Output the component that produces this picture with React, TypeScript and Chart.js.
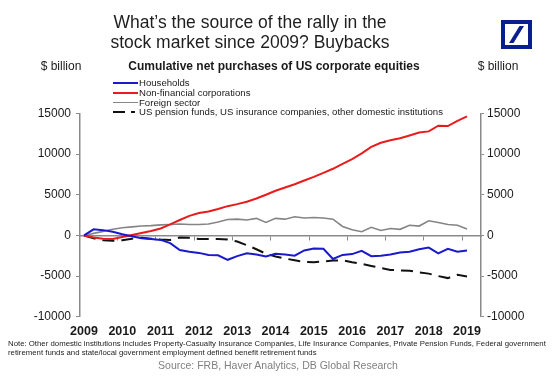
import React, { useEffect, useRef } from 'react';
import { Chart, registerables } from 'chart.js';

Chart.register(...registerables);

const QUARTERS = [
  '2009Q1', '2009Q2', '2009Q3', '2009Q4',
  '2010Q1', '2010Q2', '2010Q3', '2010Q4',
  '2011Q1', '2011Q2', '2011Q3', '2011Q4',
  '2012Q1', '2012Q2', '2012Q3', '2012Q4',
  '2013Q1', '2013Q2', '2013Q3', '2013Q4',
  '2014Q1', '2014Q2', '2014Q3', '2014Q4',
  '2015Q1', '2015Q2', '2015Q3', '2015Q4',
  '2016Q1', '2016Q2', '2016Q3', '2016Q4',
  '2017Q1', '2017Q2', '2017Q3', '2017Q4',
  '2018Q1', '2018Q2', '2018Q3', '2018Q4',
  '2019Q1',
];

const YEAR_LABELS = ['2009', '2010', '2011', '2012', '2013', '2014', '2015', '2016', '2017', '2018', '2019'];

const Y_TICKS = [-10000, -5000, 0, 5000, 10000, 15000];

const HOUSEHOLDS = [
  0, 750, 650, 450, 150, -100, -350, -450, -550, -950, -1800,
  -2000, -2150, -2400, -2450, -3000, -2550, -2200, -2350, -2600, -2250,
  -2350, -2500, -1850, -1600, -1650, -2900, -2400, -2300, -1900, -2550,
  -2500, -2350, -2100, -2000, -1700, -1500, -2200, -1650, -2000, -1850,
];

const NONFIN_CORPS = [
  0, -250, -400, -450, -200, 50, 300, 550, 850, 1350, 1900,
  2400, 2750, 2950, 3250, 3600, 3850, 4150, 4550, 5000, 5500,
  5900, 6300, 6750, 7200, 7700, 8200, 8800, 9400, 10100, 10900,
  11400, 11700, 11950, 12300, 12650, 12800, 13500, 13450, 14100, 14650,
];

const FOREIGN_SECTOR = [
  0, 250, 500, 750, 950, 1050, 1150, 1200, 1300, 1350, 1400,
  1350, 1350, 1400, 1650, 1950, 2000, 1900, 2100, 1600, 2100,
  2000, 2300, 2150, 2200, 2150, 2000, 1100, 700, 450, 1000,
  600, 850, 750, 1250, 1150, 1800, 1600, 1350, 1250, 800,
];

const PENSION_INSURANCE = [
  0, -350, -600, -650, -600, -400, -300, -400, -500, -550, -250,
  -300, -450, -450, -450, -500, -750, -1200, -1700, -2250, -2600,
  -2850, -3050, -3250, -3300, -3200, -3100, -3050, -3300, -3500, -3750,
  -4000, -4250, -4300, -4350, -4550, -4700, -5000, -5250, -4850, -5050,
];

const SERIES_NAMES = [
  'Households',
  'Non-financial corporations',
  'Foreign sector',
  'US pension funds, US insurance companies, other domestic institutions',
];

const FONT = '"Liberation Sans", Arial, Helvetica, sans-serif';
const AXIS_GREY = '#8a8a8a';
const TEXT = '#1a1a1a';

const SERIES = [
  { name: SERIES_NAMES[0], values: HOUSEHOLDS, color: '#1a1acc', width: 2, dash: [] as number[] },
  { name: SERIES_NAMES[1], values: NONFIN_CORPS, color: '#e81c1c', width: 2, dash: [] as number[] },
  { name: SERIES_NAMES[2], values: FOREIGN_SECTOR, color: '#858585', width: 1.6, dash: [] as number[] },
  { name: SERIES_NAMES[3], values: PENSION_INSURANCE, color: '#111111', width: 2, dash: [12, 7] },
];

const X_MIN = -0.42;
const X_MAX = 41.46;

export default function App() {
  const canvasRef = useRef<HTMLCanvasElement | null>(null);

  useEffect(() => {
    if (!canvasRef.current) return;
    const chart = new Chart(canvasRef.current, {
      type: 'line',
      data: {
        datasets: SERIES.map((s) => ({
          label: s.name,
          data: s.values.map((v, i) => ({ x: i, y: v })),
          borderColor: s.color,
          backgroundColor: s.color,
          borderWidth: s.width,
          borderDash: s.dash,
          pointRadius: 0,
          tension: 0,
          fill: false,
          xAxisID: 'x',
          yAxisID: 'y',
        })),
      },
      options: {
        animation: false,
        responsive: false,
        maintainAspectRatio: false,
        layout: { padding: { top: 113.5, bottom: 45.3, left: 0, right: 0 } },
        plugins: { legend: { display: false }, tooltip: { enabled: false }, title: { display: false } },
        scales: {
          x: {
            type: 'linear',
            position: 'bottom',
            min: X_MIN,
            max: X_MAX,
            grid: { display: false, drawTicks: false },
            border: { display: false },
            afterBuildTicks: (s: any) => {
              s.ticks = YEAR_LABELS.map((y) => ({ value: QUARTERS.indexOf(y + 'Q1') }));
            },
            afterFit: (s: any) => {
              s.height = 22;
            },
            ticks: {
              autoSkip: false,
              maxRotation: 0,
              padding: 7,
              color: TEXT,
              font: { family: FONT, size: 12.5, weight: 'bold' },
              callback: (v: any) => {
                const q = QUARTERS[Math.round(Number(v))];
                return q ? q.slice(0, 4) : '';
              },
            },
          },
          x0: {
            type: 'linear',
            axis: 'x',
            position: { y: 0 },
            min: X_MIN,
            max: X_MAX,
            grid: { display: true, drawOnChartArea: false, drawTicks: true, tickLength: 4, color: AXIS_GREY, lineWidth: 1 },
            border: { display: true, color: AXIS_GREY, width: 1.5 },
            ticks: { display: false },
            afterBuildTicks: (s: any) => {
              s.ticks = YEAR_LABELS.slice(1).map((y) => ({ value: QUARTERS.indexOf(y + 'Q1') - 0.5 }));
            },
            afterFit: (s: any) => {
              s.height = 0;
            },
          } as any,
          y: {
            type: 'linear',
            position: 'left',
            min: -10000,
            max: 15000,
            afterBuildTicks: (s: any) => {
              s.ticks = Y_TICKS.map((v) => ({ value: v }));
            },
            afterFit: (s: any) => {
              s.width = 80;
            },
            grid: { drawOnChartArea: false, drawTicks: true, tickLength: 4, color: AXIS_GREY, lineWidth: 1 },
            border: { display: true, color: AXIS_GREY, width: 1.5 },
            ticks: {
              padding: 5,
              color: TEXT,
              font: { family: FONT, size: 12 },
              callback: (v: any) => String(v),
            },
          },
          y2: {
            type: 'linear',
            position: 'right',
            min: -10000,
            max: 15000,
            afterBuildTicks: (s: any) => {
              s.ticks = Y_TICKS.map((v) => ({ value: v }));
            },
            afterFit: (s: any) => {
              s.width = 74;
            },
            grid: { drawOnChartArea: false, drawTicks: true, tickLength: 3, color: AXIS_GREY, lineWidth: 1 },
            border: { display: true, color: AXIS_GREY, width: 1.5 },
            ticks: {
              padding: 3,
              color: TEXT,
              font: { family: FONT, size: 12 },
              callback: (v: any) => String(v),
            },
          },
        },
      } as any,
    });
    return () => chart.destroy();
  }, []);

  const abs = (o: React.CSSProperties): React.CSSProperties => ({ position: 'absolute', whiteSpace: 'nowrap', ...o });

  return (
    <div style={{ position: 'absolute', left: 0, top: 0, width: 555, height: 384, background: '#fff', overflow: 'hidden', fontFamily: FONT, color: TEXT }}>
      <canvas ref={canvasRef} width={555} height={384} style={{ position: 'absolute', left: 0, top: 0, width: 555, height: 384, display: 'block' }} />

      <div style={abs({ left: 50, top: 13, width: 400, textAlign: 'center', fontSize: 17.5, lineHeight: '19.5px', color: '#1e1e1e' })}>
        <div>What’s the source of the rally in the</div>
        <div>stock market since 2009? Buybacks</div>
      </div>

      <svg style={{ position: 'absolute', left: 501, top: 20 }} width={31} height={29} viewBox="0 0 31 29">
        <rect x={2} y={2} width={27} height={25} fill="none" stroke="#0b1e8e" strokeWidth={4} />
        <polygon points="8,23 12.5,23 23,6 18.5,6" fill="#0b1e8e" />
      </svg>

      <div style={abs({ left: 21, top: 59, width: 80, textAlign: 'center', fontSize: 12, lineHeight: '14px' })}>$ billion</div>
      <div style={abs({ left: 458, top: 59, width: 80, textAlign: 'center', fontSize: 12, lineHeight: '14px' })}>$ billion</div>
      <div style={abs({ left: 74, top: 59, width: 400, textAlign: 'center', fontSize: 12, fontWeight: 'bold', lineHeight: '14px' })}>
        Cumulative net purchases of US corporate equities
      </div>

      <div style={abs({ left: 113, top: 78.2 })}>
        {SERIES.map((s) => (
          <div key={s.name} style={{ display: 'flex', alignItems: 'center', height: 9.7, fontSize: 9.6, lineHeight: '9.7px' }}>
            {s.dash.length ? (
              <div style={{ width: 25, display: 'flex', alignItems: 'center' }}>
                <div style={{ width: 12, height: 2, background: s.color }} />
                <div style={{ width: 6 }} />
                <div style={{ width: 4, height: 2, background: s.color }} />
              </div>
            ) : (
              <div style={{ width: 25, height: s.width >= 2 ? 2 : 1.5, background: s.color }} />
            )}
            <span style={{ marginLeft: 1 }}>{s.name}</span>
          </div>
        ))}
      </div>

      <div style={abs({ left: 8, top: 338.5, fontSize: 7.8, lineHeight: '9px', color: '#222' })}>
        <div>Note: Other domestic institutions includes Property-Casualty Insurance Companies, Life Insurance Companies, Private Pension Funds, Federal government</div>
        <div>retirement funds and state/local government employment defined benefit retirement funds</div>
      </div>

      <div style={abs({ left: 128, top: 358.5, width: 300, textAlign: 'center', fontSize: 10.5, lineHeight: '13px', color: '#808080' })}>
        Source: FRB, Haver Analytics, DB Global Research
      </div>
    </div>
  );
}
